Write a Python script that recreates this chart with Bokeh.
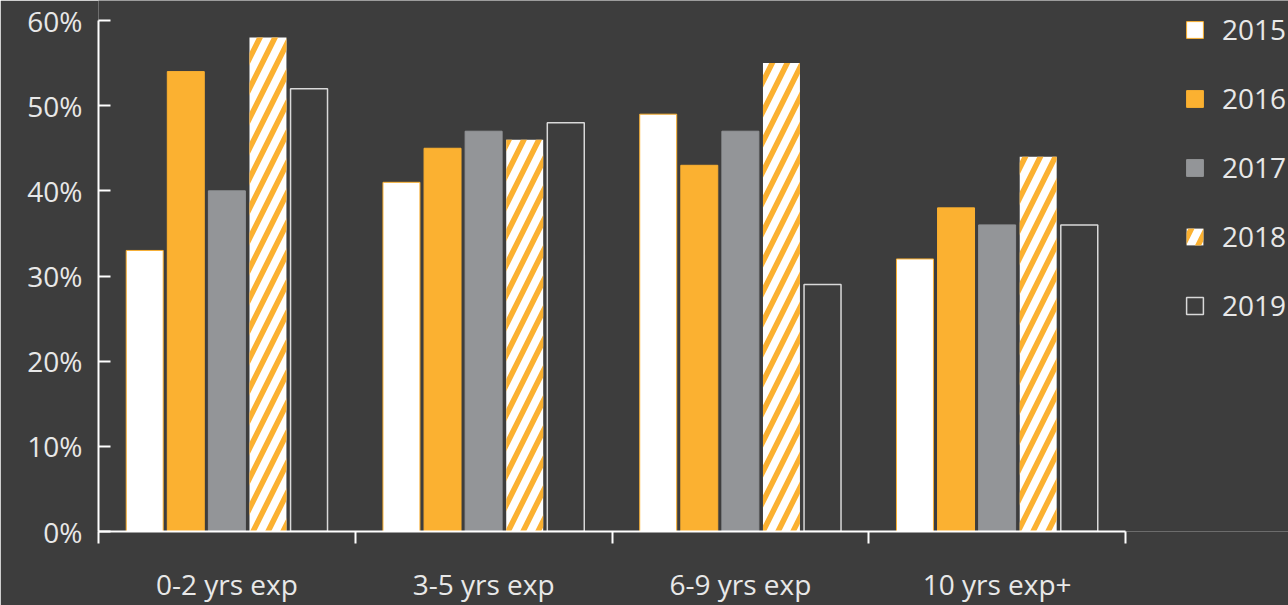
from bokeh.plotting import figure
from bokeh.models import (Range1d, LinearAxis, FixedTicker, PrintfTickFormatter, Legend,
                          LegendItem, ColumnDataSource)
from bokeh.embed import file_html
from bokeh.resources import INLINE

categories = ["0-2 yrs exp", "3-5 yrs exp", "6-9 yrs exp", "10 yrs exp+"]
years = ["2015", "2016", "2017", "2018", "2019"]
v2015 = [33, 41, 49, 32]
v2016 = [54, 45, 43, 38]
v2017 = [40, 47, 47, 36]
v2018 = [58, 46, 55, 44]
v2019 = [52, 48, 29, 36]
values = [v2015, v2016, v2017, v2018, v2019]
y_ticks = [0, 10, 20, 30, 40, 50, 60]
y_max = 60

n = len(categories)
group_edges = list(range(n + 1))
centers = [i + 0.5 for i in range(n)]

BG = "#3d3d3d"
ORANGE = "#fbb131"
GRAY = "#939598"
WHITE = "#ffffff"
TXT = "#e8e8e8"
FONT = "Open Sans"
FS = "28px"

# frame spans x 98..1288 and y 0..531 px; the axes stop at the data extent
x_end = n * (1288 - 98) / (1125 - 98)
y_end = y_max * 531 / (531 - 20)

p = figure(width=1288, height=605, x_range=Range1d(0, x_end), y_range=Range1d(0, y_end),
           output_backend="svg", toolbar_location=None, x_axis_location=None, y_axis_location=None,
           min_border_left=98, min_border_right=0, min_border_top=0, min_border_bottom=74,
           background_fill_color=BG, border_fill_color=BG, outline_line_color=None)
p.grid.visible = False

W = 0.144
offs = [-0.32, -0.16, 0.0, 0.16, 0.32]
styles = [
    dict(fill_color=WHITE, line_color=ORANGE, line_width=1),
    dict(fill_color=ORANGE, line_color=ORANGE, line_width=1),
    dict(fill_color=GRAY, line_color=GRAY, line_width=1),
    dict(fill_color=WHITE, line_color=None, hatch_pattern="/", hatch_color=ORANGE,
         hatch_weight=5.5, hatch_scale=30),
    dict(fill_color=None, line_color="#d9d9d9", line_width=1.5),
]
items = []
for yr, vals, off, st in zip(years, values, offs, styles):
    src = ColumnDataSource(dict(x=[c + off for c in centers], top=vals))
    r = p.vbar(x="x", top="top", width=W, bottom=0, source=src, **st)
    items.append(LegendItem(label=yr, renderers=[r]))

legend = Legend(items=items, location=(1086, 207), orientation="vertical",
                background_fill_alpha=0, border_line_color=None, padding=0, margin=0,
                spacing=31, glyph_width=21, glyph_height=21, label_height=21,
                label_standoff=17, label_text_font=FONT, label_text_font_size=FS,
                label_text_color=TXT, label_text_baseline="middle")
p.add_layout(legend, "center")

# y axis
y_ax = LinearAxis(ticker=FixedTicker(ticks=y_ticks), formatter=PrintfTickFormatter(format="%d%%"),
                  bounds=(0, y_max),
                  axis_line_color=WHITE, axis_line_width=2, major_tick_in=12, major_tick_out=0,
                  major_tick_line_color=WHITE, major_tick_line_width=2, minor_tick_line_color=None,
                  major_label_standoff=16, major_label_text_font=FONT, major_label_text_font_size=FS,
                  major_label_text_color=TXT)
p.add_layout(y_ax, "left")

# x axis: labels at group centres, (minor) ticks at group boundaries
x_ax = LinearAxis(ticker=FixedTicker(ticks=centers, minor_ticks=group_edges),
                  bounds=(0, n),
                  major_label_overrides={c: lab for c, lab in zip(centers, categories)},
                  axis_line_color=WHITE, axis_line_width=2,
                  major_tick_line_color=None, major_tick_in=0, major_tick_out=0,
                  minor_tick_line_color=WHITE, minor_tick_line_width=2,
                  minor_tick_in=0, minor_tick_out=12,
                  major_label_text_font=FONT, major_label_text_font_size=FS,
                  major_label_text_color=TXT, major_label_standoff=21)
p.add_layout(x_ax, "below")

open("out.html", "w").write(file_html(p, INLINE))
